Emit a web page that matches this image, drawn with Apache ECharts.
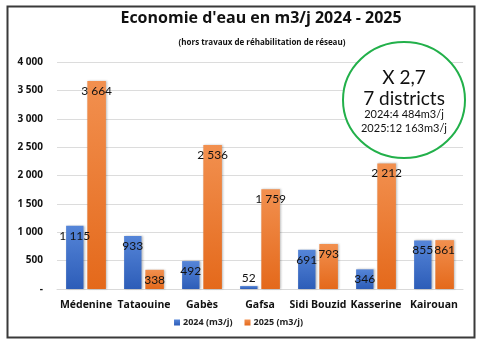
<!DOCTYPE html>
<html>
<head>
<meta charset="utf-8">
<script src="https://cdn.jsdelivr.net/npm/echarts@6/dist/echarts.min.js"></script>
<style>
  html, body { margin: 0; padding: 0; background: #fff; }
  #chart { width: 477px; height: 344px; }
</style>
</head>
<body>
<div id="chart"></div>
<script>
// Districts and daily water savings (m3/j)
const districts = ['Médenine', 'Tataouine', 'Gabès', 'Gafsa', 'Sidi Bouzid', 'Kasserine', 'Kairouan'];
const savings2024 = [1115, 933, 492, 52, 691, 346, 855];
const savings2025 = [3664, 338, 2536, 1759, 793, 2212, 861];
const seriesNames = ['2024 (m3/j)', '2025 (m3/j)'];
const summaryLines = ['X 2,7', '7 districts', '2024:4 484m3/j', '2025:12 163m3/j'];

const BOLD_FONT = '"Open Sans", "Noto Sans", sans-serif';
const FONT = 'Lato, "Open Sans", sans-serif';

function fmt(v) {
  if (v === 0) return '-';
  return String(v).replace(/\B(?=(\d{3})+(?!\d))/g, ' ');
}

function grad(top, bottom) {
  return { type: 'linear', x: 0, y: 0, x2: 0, y2: 1,
    colorStops: [{ offset: 0, color: top }, { offset: 1, color: bottom }] };
}

function labelled(values) {
  return values.map(v => ({
    value: v,
    label: v < 150 ? { position: 'top', distance: 2 } : {}
  }));
}

const chart = echarts.init(document.getElementById('chart'));

const barLabel = {
  show: true,
  position: 'insideTop',
  distance: 4,
  color: '#111',
  fontFamily: FONT,
  fontSize: 12,
  formatter: p => fmt(p.value)
};

chart.setOption({
  animation: false,
  backgroundColor: '#fff',
  title: [
    { text: "Economie d'eau en m3/j 2024 - 2025", left: 256, textAlign: 'center', top: 5,
      textStyle: { fontFamily: BOLD_FONT, fontWeight: 'bold', fontSize: 16, color: '#111' } },
    { text: '(hors travaux de réhabilitation de réseau)', left: 257, textAlign: 'center', top: 34,
      textStyle: { fontFamily: BOLD_FONT, fontWeight: 'bold', fontSize: 8, color: '#111' } }
  ],
  grid: { left: 57, right: 14, top: 62, bottom: 55 },
  legend: {
    bottom: 12, left: 'center',
    itemWidth: 6, itemHeight: 6, itemGap: 12,
    icon: 'rect',
    textStyle: { fontFamily: BOLD_FONT, fontWeight: 'bold', fontSize: 9, color: '#222', padding: [0, 0, 0, -2] },
    data: seriesNames
  },
  xAxis: {
    type: 'category',
    data: districts,
    axisLine: { lineStyle: { color: '#d9d9d9' } },
    axisTick: { show: false },
    axisLabel: { fontFamily: BOLD_FONT, fontWeight: 'bold', fontSize: 10.5, color: '#111', margin: 11, interval: 0 }
  },
  yAxis: {
    type: 'value',
    min: 0, max: 4000, interval: 500,
    axisLine: { show: false },
    axisTick: { show: false },
    splitLine: { lineStyle: { color: '#dcdcdc', width: 1 } },
    axisLabel: { fontFamily: BOLD_FONT, fontWeight: 'bold', fontSize: 10, color: '#111', margin: 14,
      formatter: v => fmt(v) }
  },
  series: [
    {
      name: seriesNames[0], type: 'bar', barWidth: '30%', barGap: '22%',
      data: labelled(savings2024),
      itemStyle: { color: grad('#5585d8', '#2d5db8'), shadowColor: 'rgba(0,0,0,0.25)', shadowBlur: 2, shadowOffsetX: 1 },
      label: barLabel
    },
    {
      name: seriesNames[1], type: 'bar', barWidth: '32%',
      data: labelled(savings2025),
      itemStyle: { color: grad('#f2904f', '#e4691b'), shadowColor: 'rgba(0,0,0,0.25)', shadowBlur: 2, shadowOffsetX: 1 },
      label: barLabel
    }
  ],
  graphic: [
    { type: 'rect', left: 5, top: 4, z: 100,
      shape: { width: 467, height: 331 },
      style: { fill: 'none', stroke: '#3a3a3a', lineWidth: 2 } },
    { type: 'ellipse', z: 50,
      shape: { cx: 404, cy: 100, rx: 61, ry: 58 },
      style: { fill: '#fff', stroke: '#22b04a', lineWidth: 2 } },
    { type: 'text', z: 51, x: 404, y: 78,
      style: { text: summaryLines[0], align: 'center', verticalAlign: 'middle', fontFamily: FONT, fontSize: 19, fill: '#111' } },
    { type: 'text', z: 51, x: 404, y: 99,
      style: { text: summaryLines[1], align: 'center', verticalAlign: 'middle', fontFamily: FONT, fontSize: 19, fill: '#111' } },
    { type: 'text', z: 51, x: 404, y: 114,
      style: { text: summaryLines[2], align: 'center', verticalAlign: 'middle', fontFamily: FONT, fontSize: 11, fill: '#111' } },
    { type: 'text', z: 51, x: 404, y: 128,
      style: { text: summaryLines[3], align: 'center', verticalAlign: 'middle', fontFamily: FONT, fontSize: 11, fill: '#111' } }
  ]
});
</script>
</body>
</html>
